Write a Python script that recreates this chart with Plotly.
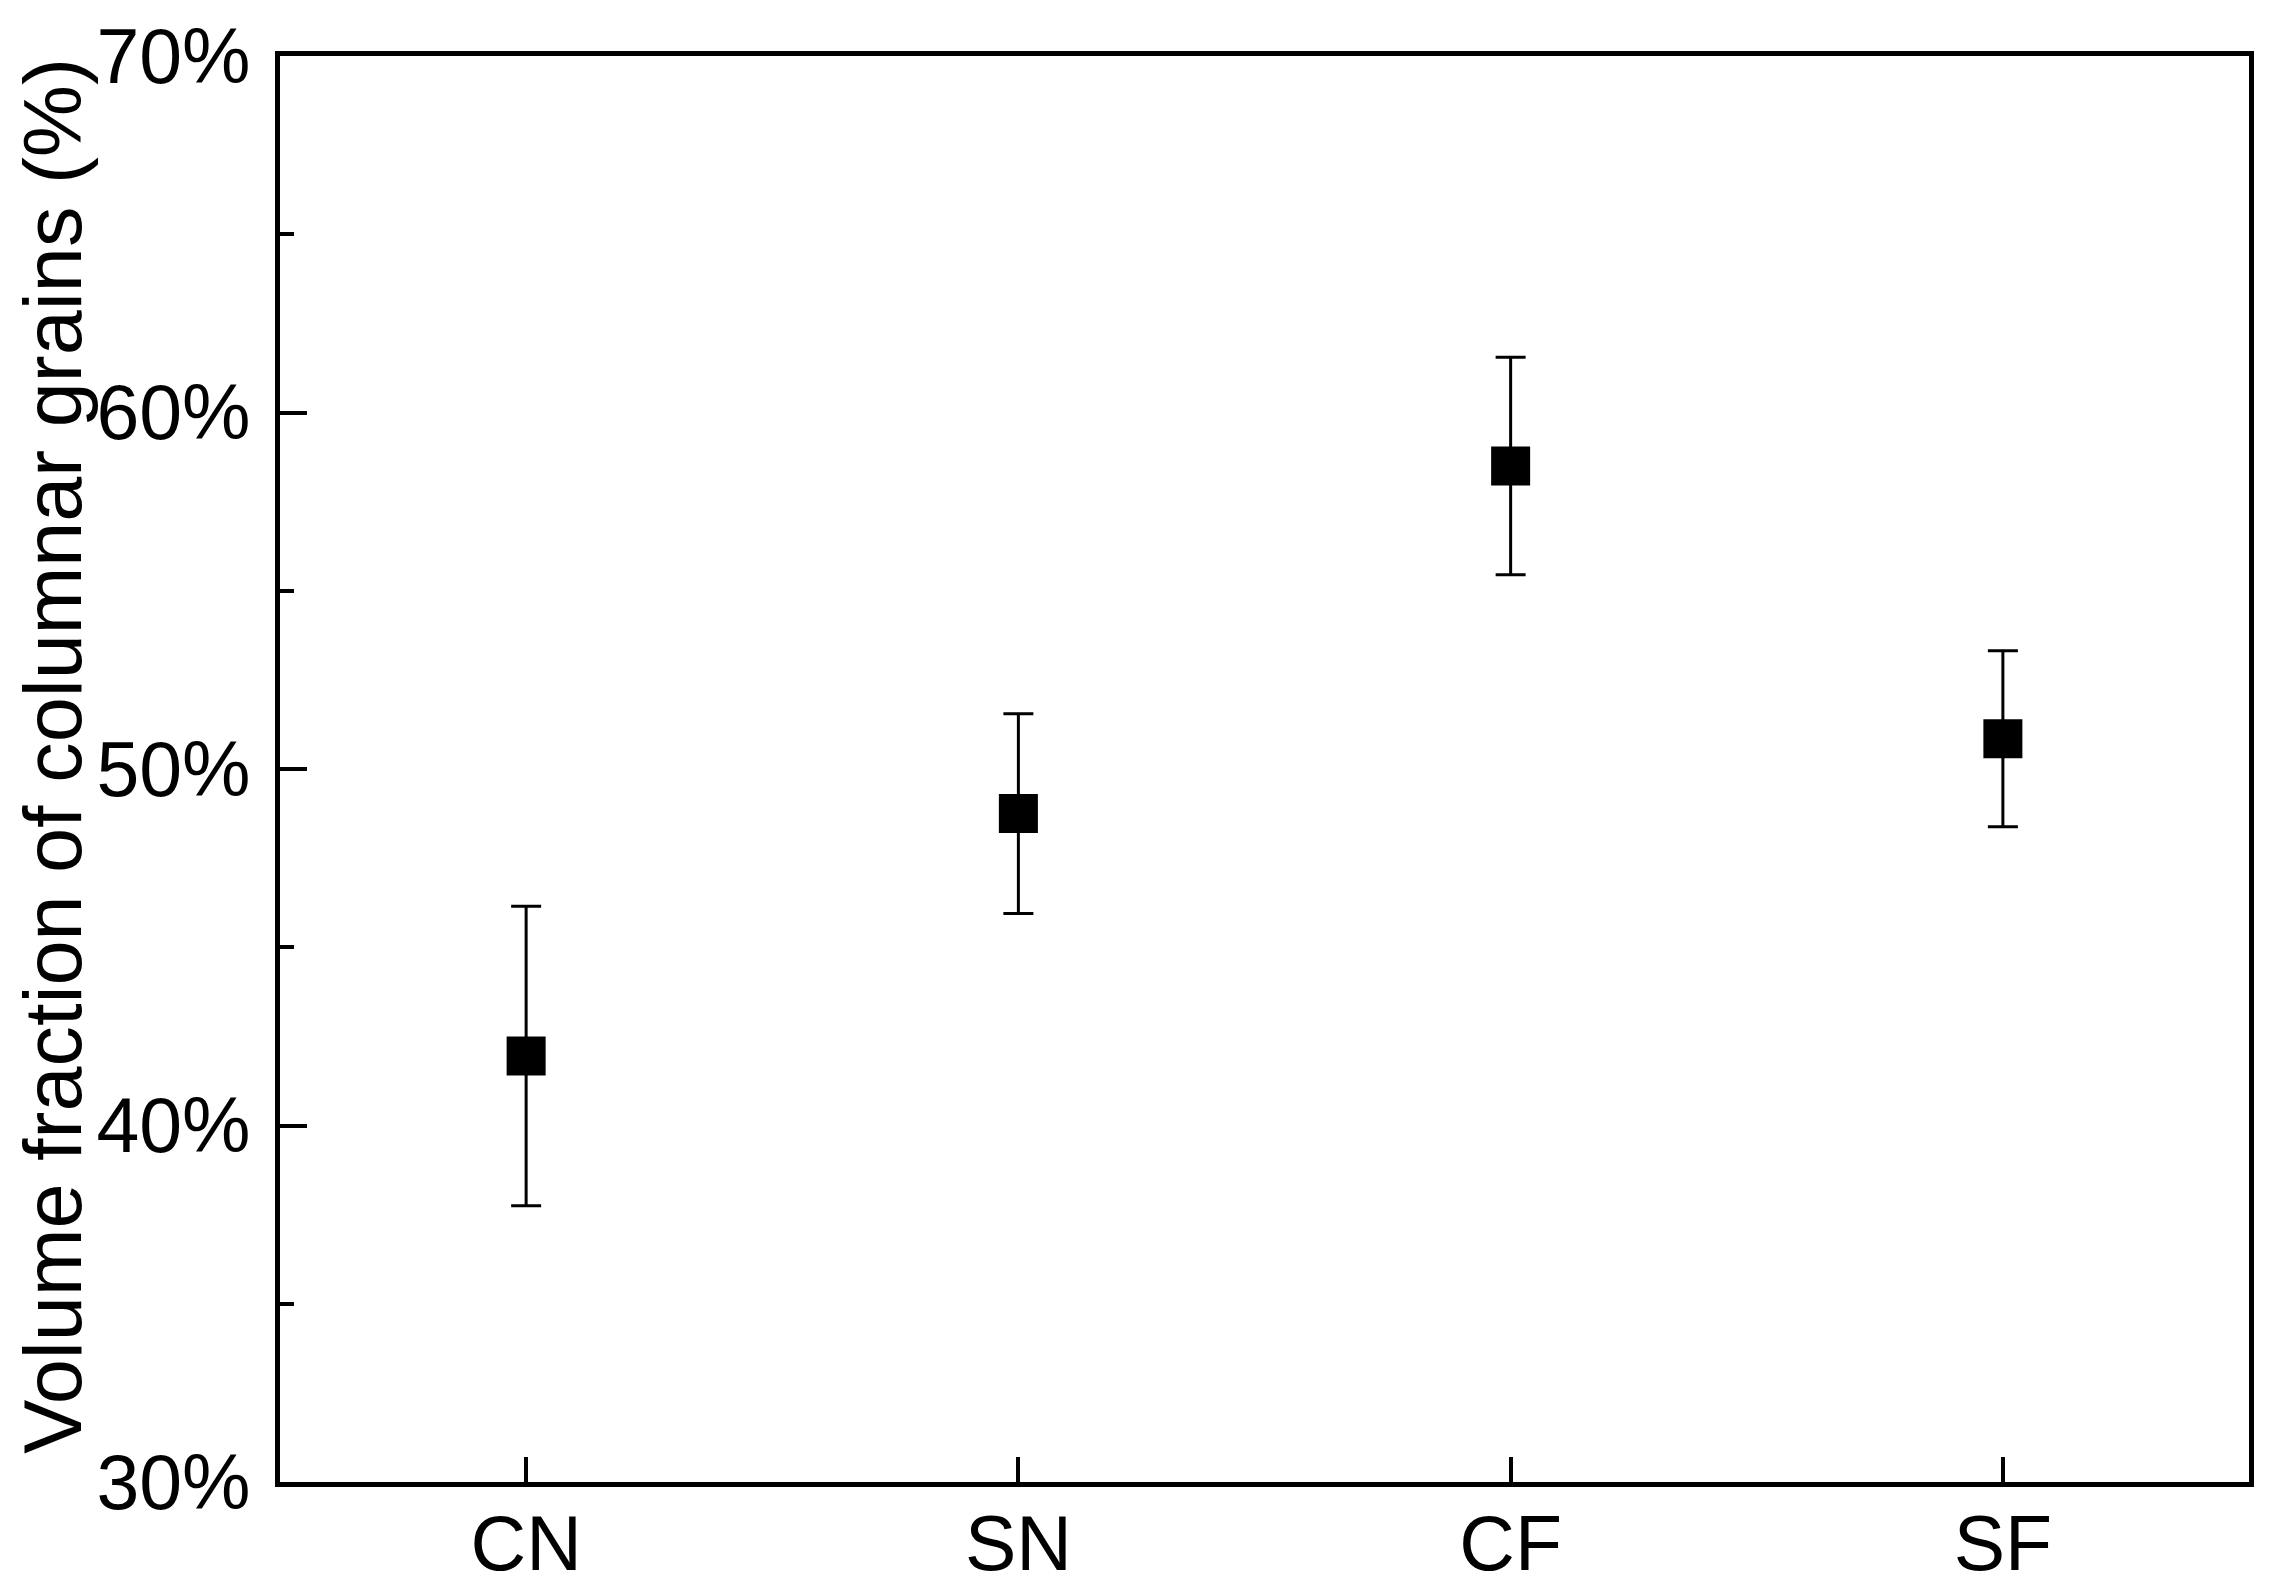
import plotly.graph_objects as go

categories = ["CN", "SN", "CF", "SF"]
values = [41.95, 48.75, 58.5, 50.85]
errors = [4.2, 2.8, 3.05, 2.47]
y_ticks = [30, 40, 50, 60, 70]
y_tick_labels = ["30%", "40%", "50%", "60%", "70%"]
y_title = "Volume fraction of columnar grains (%)"

FONT = "Arial, 'Liberation Sans', Helvetica, sans-serif"

fig = go.Figure()
fig.add_trace(go.Scatter(
    x=categories, y=values, mode="markers",
    marker=dict(symbol="square", size=39, color="black"),
    error_y=dict(type="data", array=errors, visible=True,
                 color="black", thickness=3, width=15),
    showlegend=False,
))

fig.update_layout(
    width=2254, height=1580,
    margin=dict(l=272, r=13, t=48, b=106),
    paper_bgcolor="white", plot_bgcolor="white",
    font=dict(family=FONT, color="black", size=77),
)
fig.update_xaxes(
    type="category", range=[-0.5, 3.5], automargin=False,
    showline=True, linecolor="black", linewidth=5, mirror=True,
    ticks="inside", ticklen=25, tickwidth=4, tickcolor="black",
    showgrid=False, zeroline=False,
    tickfont=dict(size=77, family=FONT), ticklabelstandoff=-9,
)
fig.update_yaxes(
    range=[30, 70], tickvals=y_ticks, ticktext=y_tick_labels, automargin=False,
    showline=True, linecolor="black", linewidth=5, mirror=True,
    ticks="inside", ticklen=27, tickwidth=4, tickcolor="black",
    minor=dict(dtick=5, tick0=30, ticks="inside", ticklen=14, tickwidth=4, tickcolor="black", showgrid=False),
    showgrid=False, zeroline=False,
    tickfont=dict(size=77, family=FONT), ticklabelstandoff=9,
)
fig.add_annotation(
    text=y_title, textangle=-90, showarrow=False,
    xref="paper", yref="paper", x=-0.1150, y=0.509,
    xanchor="center", yanchor="middle",
    font=dict(size=81, family=FONT, color="black"),
)

fig.write_html("out.html")
